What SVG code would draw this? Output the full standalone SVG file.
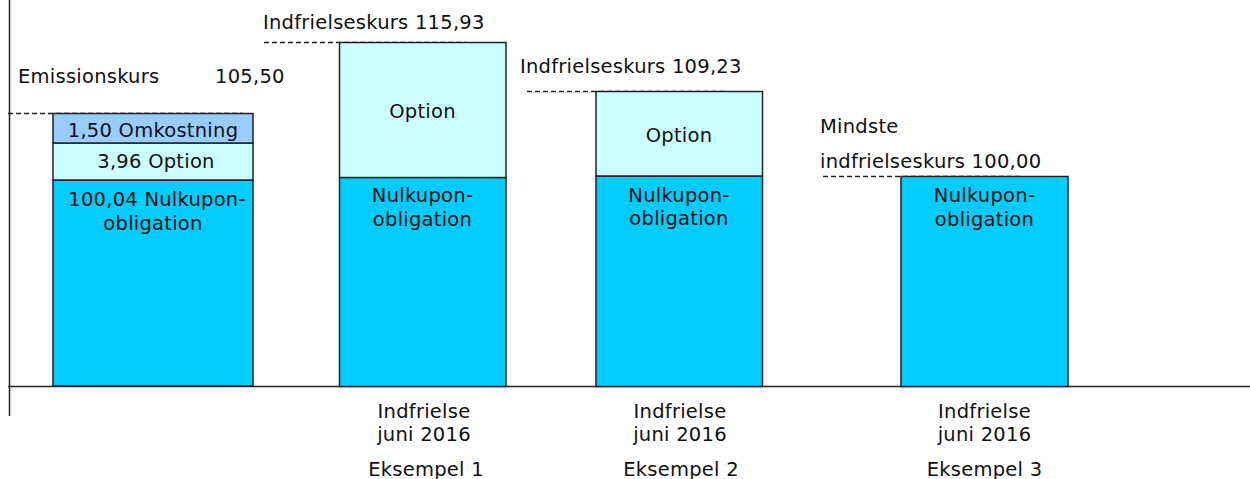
<svg xmlns="http://www.w3.org/2000/svg" width="1250" height="479" viewBox="0 0 1250 479">
<style>
text{font-family:"DejaVu Sans",Verdana,sans-serif;font-size:19.5px;letter-spacing:0.25px;fill:#111}
.c{text-anchor:middle}
.axis{stroke:#222;stroke-width:1.5;fill:none}
.dash{stroke:#222;stroke-width:1.5;stroke-dasharray:5 3;fill:none}
.box{stroke:#222;stroke-width:1.5}
.cost{fill:#99CCFF}
.opt{fill:#CCFFFF}
.zero{fill:#00CCFF}
</style>
<rect width="1250" height="479" fill="#fff"/>
<g id="connectors">
<line class="axis" x1="9.5" y1="0" x2="9.5" y2="416"/>
<line class="axis" x1="8" y1="386.5" x2="1250" y2="386.5"/>
<line class="dash" x1="8" y1="113.5" x2="243" y2="113.5"/>
<line class="dash" x1="264" y1="42.5" x2="466" y2="42.5"/>
<line class="dash" x1="527" y1="91.5" x2="727" y2="91.5"/>
<line class="dash" x1="823" y1="176.5" x2="1023" y2="176.5"/>
</g>
<g id="labels">
<text x="18" y="83">Emissionskurs</text>
<text x="215" y="83">105,50</text>
<text x="263" y="29">Indfrielseskurs 115,93</text>
<text x="520" y="73">Indfrielseskurs 109,23</text>
<text x="820" y="133">Mindste</text>
<text x="820" y="168">indfrielseskurs 100,00</text>
</g>
<g id="bar1">
<rect class="box zero" x="53" y="180" width="200" height="206"/>
<rect class="box opt" x="53" y="143" width="200" height="37"/>
<rect class="box cost" x="53" y="113.5" width="200" height="29.5"/>
<text class="c" x="153" y="137">1,50 Omkostning</text>
<text class="c" x="156" y="168">3,96 Option</text>
<text class="c" x="157" y="206">100,04 Nulkupon-</text>
<text class="c" x="153" y="230">obligation</text>
</g>
<g id="bar2">
<rect class="box zero" x="339.5" y="177.5" width="166.5" height="209"/>
<rect class="box opt" x="339.5" y="42.5" width="166.5" height="135"/>
<text class="c" x="422.5" y="118">Option</text>
<text class="c" x="422.5" y="202">Nulkupon-</text>
<text class="c" x="422.5" y="226">obligation</text>
<text class="c" x="424" y="418">Indfrielse</text>
<text class="c" x="424" y="441">juni 2016</text>
<text class="c" x="426" y="476">Eksempel 1</text>
</g>
<g id="bar3">
<rect class="box zero" x="596" y="176" width="166.5" height="210.5"/>
<rect class="box opt" x="596" y="91.5" width="166.5" height="84.5"/>
<text class="c" x="679" y="142">Option</text>
<text class="c" x="679" y="202">Nulkupon-</text>
<text class="c" x="679" y="225">obligation</text>
<text class="c" x="680" y="418">Indfrielse</text>
<text class="c" x="680" y="441">juni 2016</text>
<text class="c" x="681" y="476">Eksempel 2</text>
</g>
<g id="bar4">
<rect class="box zero" x="901" y="176.5" width="167" height="210"/>
<text class="c" x="984.5" y="202">Nulkupon-</text>
<text class="c" x="984.5" y="226">obligation</text>
<text class="c" x="984.5" y="418">Indfrielse</text>
<text class="c" x="984.5" y="441">juni 2016</text>
<text class="c" x="984.5" y="476">Eksempel 3</text>
</g>
</svg>
